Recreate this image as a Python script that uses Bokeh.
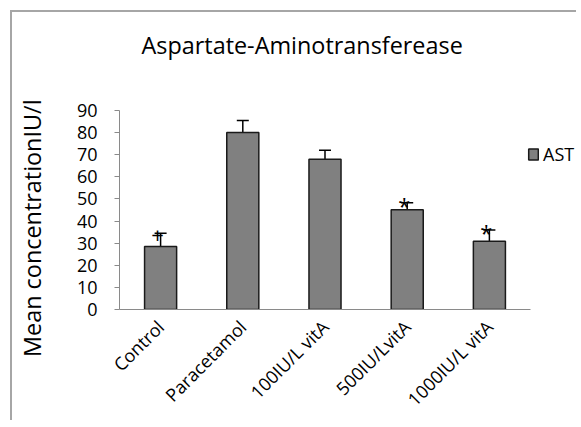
import math
from bokeh.plotting import figure
from bokeh.models import (ColumnDataSource, Range1d, Whisker, TeeHead, Legend,
                          LegendItem, SingleIntervalTicker, FixedTicker, Title)
from bokeh.core.properties import value
from bokeh.embed import file_html
from bokeh.resources import INLINE

# ---- data ----
categories = ["Control", "Paracetamol", "100IU/L vitA", "500IU/LvitA", "1000IU/L vitA"]
means = [28.5, 80.0, 68.0, 45.1, 30.9]
errors = [6.0, 5.5, 4.0, 3.2, 5.0]
marks = ["+", "", "", "*", "*"]
series_name = "AST"
title_text = "Aspartate-Aminotransferease"
y_label = "Mean concentrationIU/l"

# category slots 0..n on a numeric axis (centre of each slot)
xpos = [i + 0.5 for i in range(len(categories))]
upper = [m + e for m, e in zip(means, errors)]
lower = [m - e for m, e in zip(means, errors)]
src = ColumnDataSource(dict(x=xpos, mean=means, upper=upper,
                            lower=lower, mark=marks))

FONT = "Open Sans"

# the frame goes on past the last category, room for the legend
p = figure(width=566, height=410, x_range=Range1d(0, len(categories) + 0.584),
           y_range=Range1d(0, 90),
           output_backend="svg", toolbar_location=None,
           min_border_left=107, min_border_right=0,
           min_border_top=98, min_border_bottom=112)
p.styles = {"margin-left": "10px", "margin-top": "10px",
            "border-top": "2px solid #a6a6a6", "border-left": "2px solid #a6a6a6"}

# spacer (nearest the frame) then the real title
p.add_layout(Title(text=" ", text_font_size="10px", standoff=37), "above")
p.add_layout(Title(text=title_text, text_font=FONT, text_font_size="23.4px",
                   text_font_style="normal", text_color="black",
                   align="left", offset=22, standoff=0), "above")

p.outline_line_color = None
p.xgrid.visible = False
p.ygrid.visible = False

bars = p.vbar(x="x", top="mean", width=0.39, source=src,
              fill_color="#808080", line_color="#1a1a1a", line_width=1.5)

wh = Whisker(base="x", upper="upper", lower="lower", source=src,
             line_color="black", line_width=1.5,
             upper_head=TeeHead(size=12, line_width=1.5, line_color="black"),
             lower_head=TeeHead(size=12, line_width=1.5, line_color="black"))
p.add_layout(wh)

p.text(x="x", y="upper", text="mark", source=src, text_align="center",
       text_baseline="middle", text_font=value(FONT), text_font_size="22px",
       text_color="black", x_offset=-3, y_offset=2)

# y axis
p.yaxis.ticker = SingleIntervalTicker(interval=10)
p.yaxis.major_label_text_font = FONT
p.yaxis.major_label_text_font_size = "18px"
p.yaxis.major_label_text_color = "black"
p.yaxis.major_label_standoff = 17
p.yaxis.axis_line_color = "#8a8a8a"
p.yaxis.major_tick_line_color = "#8a8a8a"
p.yaxis.major_tick_out = 5
p.yaxis.major_tick_in = 0
p.yaxis.minor_tick_line_color = None
# trailing no-break spaces shift the centred label down, as in the original
p.yaxis.axis_label = y_label + "\u00a0" * 6
p.yaxis.axis_label_text_font = FONT
p.yaxis.axis_label_text_font_size = "23.4px"
p.yaxis.axis_label_text_font_style = "normal"
p.yaxis.axis_label_text_color = "black"
p.yaxis.axis_label_standoff = 26

# x axis: category names at the slot centres, line only under the categories
p.xaxis.ticker = FixedTicker(ticks=xpos)
p.xaxis.major_label_overrides = {x: c for x, c in zip(xpos, categories)}
p.xaxis.bounds = (0, len(categories))
p.xaxis.major_label_orientation = math.pi / 4
p.xaxis.major_label_text_font = FONT
p.xaxis.major_label_text_font_size = "18px"
p.xaxis.major_label_text_color = "black"
p.xaxis.major_label_standoff = 8
p.xaxis.axis_line_color = "#8a8a8a"
p.xaxis.major_tick_line_color = None
p.xaxis.minor_tick_line_color = None

legend = Legend(items=[LegendItem(label=series_name, renderers=[bars])],
                location=(408, 143), border_line_color=None,
                background_fill_alpha=0, padding=0, margin=0, spacing=0,
                glyph_width=12, glyph_height=14, label_height=14,
                label_standoff=4, label_text_font=FONT,
                label_text_font_size="18px", label_text_color="black")
p.add_layout(legend)

open("out.html", "w").write(file_html(p, INLINE))
